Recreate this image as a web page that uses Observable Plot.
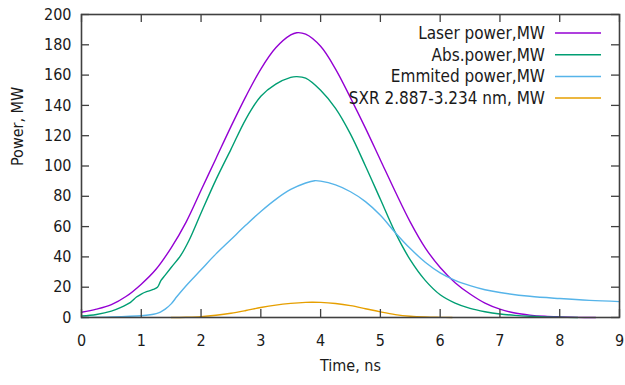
<!DOCTYPE html>
<html><head><meta charset="utf-8">
<script src="https://cdn.jsdelivr.net/npm/d3@7"></script>
<script src="https://cdn.jsdelivr.net/npm/@observablehq/plot@0.6"></script>
<style>
body{margin:0;background:#fff}
#chart svg{font-family:"DejaVu Sans Condensed","DejaVu Sans",sans-serif;font-stretch:condensed}
</style>
</head><body><div id="chart"></div>
<script>
// Tick values
const xTicks = [0,1,2,3,4,5,6,7,8,9];
const yTicks = [0,20,40,60,80,100,120,140,160,180,200];

// Series names and colors
const seriesNames = ["Laser power,MW","Abs.power,MW","Emmited power,MW","SXR 2.887-3.234 nm, MW"];
const seriesColors = ["#9400d3","#009e73","#56b4e9","#e69f00"];

// Laser power, MW
const laserT = [0,0.25,0.5,0.75,1,1.25,1.5,1.75,2,2.25,2.5,2.75,3,3.25,3.5,3.6,3.75,4,4.25,4.5,4.75,5,5.25,5.5,5.75,6,6.25,6.5,6.75,7,7.25,7.5,7.75,8,8.3,8.6];
const laserV = [3.5,5.5,8.5,14,22,32,46,63,84,105,126,146,164,178,186.5,188,187,179,164,145,125,104,83,63,46,33,23,15.5,9.5,5.5,3,1.6,0.8,0.4,0.1,0];

// Absorbed power, MW
const absT = [0,0.25,0.5,0.65,0.82,0.92,1.0,1.1,1.2,1.27,1.33,1.4,1.5,1.66,1.8,2,2.25,2.5,2.75,3,3.25,3.5,3.6,3.75,4,4.25,4.5,4.75,5,5.25,5.5,5.75,6,6.25,6.5,6.75,7,7.25,7.5,7.75,8,8.3];
const absV = [1,2,4.2,6.5,10,13.5,15.5,17.2,18.5,20,24.5,28,33,41,51,69,91,111,131,146,154,158.5,159,158,150,138,121,100,78,56,38,24.5,15,9.5,6,3.8,2.3,1.4,0.8,0.4,0.2,0];

// Emitted power, MW
const emT = [0,0.5,1,1.15,1.25,1.32,1.4,1.5,1.6,1.75,2,2.25,2.5,2.75,3,3.25,3.5,3.75,3.9,4,4.25,4.5,4.75,5,5.25,5.5,5.75,6,6.25,6.5,6.75,7,7.5,8,8.5,9];
const emV = [0,0.4,1.2,1.8,2.6,3.6,5.5,9,14,21,31.5,42,51.5,61,70,78,84.5,88.8,90.3,90,87.5,83,76.5,67.5,56,45.5,36.5,29.5,24.5,21,18.3,16.5,14,12.5,11.3,10.5];

// SXR 2.887-3.234 nm, MW
const sxrT = [1.5,1.75,2,2.25,2.5,2.75,3,3.25,3.5,3.75,3.85,4,4.25,4.5,4.75,5,5.25,5.5,5.75,6,6.2];
const sxrV = [0,0.2,0.6,1.5,2.8,4.6,6.6,8.2,9.3,10,10.1,10,9.2,7.8,5.8,3.7,1.9,0.8,0.3,0.1,0];

const allT = [laserT, absT, emT, sxrT];
const allV = [laserV, absV, emV, sxrV];
const rows = [];
seriesNames.forEach((name, i) => {
  allT[i].forEach((t, j) => rows.push({t, v: allV[i][j], series: name}));
});

const W = 625, H = 385;
const mL = 81, mR = 6, mT = 14, mB = 68;
const fw = W - mL - mR, fh = H - mT - mB;
const tickLen = 8;
const axisColor = "#404040";
const textColor = "#1a1a1a";

const chart = Plot.plot({
  width: W, height: H,
  marginLeft: mL, marginRight: mR, marginTop: mT, marginBottom: mB,
  style: {fontFamily: '"DejaVu Sans Condensed","DejaVu Sans",sans-serif', fontSize: "16px", color: textColor, background: "#fff", overflow: "visible"},
  x: {domain: [0, 9]},
  y: {domain: [0, 200]},
  color: {domain: seriesNames, range: seriesColors},
  marks: [
    Plot.line(rows, {x: "t", y: "v", z: "series", stroke: "series", strokeWidth: 1.4, curve: "catmull-rom"}),
    // inward ticks on all four sides
    Plot.ruleX(xTicks, {x: d => d, insetTop: fh - tickLen, stroke: axisColor, strokeWidth: 1.3}),
    Plot.ruleX(xTicks, {x: d => d, insetBottom: fh - tickLen, stroke: axisColor, strokeWidth: 1.3}),
    Plot.ruleY(yTicks, {y: d => d, insetRight: fw - tickLen, stroke: axisColor, strokeWidth: 1.3}),
    Plot.ruleY(yTicks, {y: d => d, insetLeft: fw - tickLen, stroke: axisColor, strokeWidth: 1.3}),
    Plot.axisX(xTicks, {anchor: "bottom", tickSize: 0, tickPadding: 17, label: null, fill: textColor}),
    Plot.axisY(yTicks, {anchor: "left", tickSize: 0, tickPadding: 10, label: null, fill: textColor}),
    Plot.frame({stroke: axisColor, strokeWidth: 1.6}),
    Plot.text(["Time, ns"], {frameAnchor: "bottom", dy: 53, fill: textColor, fontSize: 16}),
    Plot.text(["Power, MW"], {frameAnchor: "left", dx: -64, rotate: -90, fill: textColor, fontSize: 16})
  ]
});

// Legend (key) inside the plot, top-right, gnuplot style
const svg = d3.select(chart);
const legendTextRight = 545, lineX1 = 555, lineX2 = 601, legendY0 = 33, legendStep = 21.7;
const g = svg.append("g").attr("font-size", 17).attr("fill", textColor);
seriesNames.forEach((name, i) => {
  const y = legendY0 + i * legendStep;
  g.append("text").attr("x", legendTextRight).attr("y", y).attr("dy", "0.35em")
    .attr("text-anchor", "end").text(name);
  g.append("line").attr("x1", lineX1).attr("x2", lineX2).attr("y1", y).attr("y2", y)
    .attr("stroke", seriesColors[i]).attr("stroke-width", 1.5);
});

document.getElementById("chart").appendChild(chart);
</script>
</body></html>
